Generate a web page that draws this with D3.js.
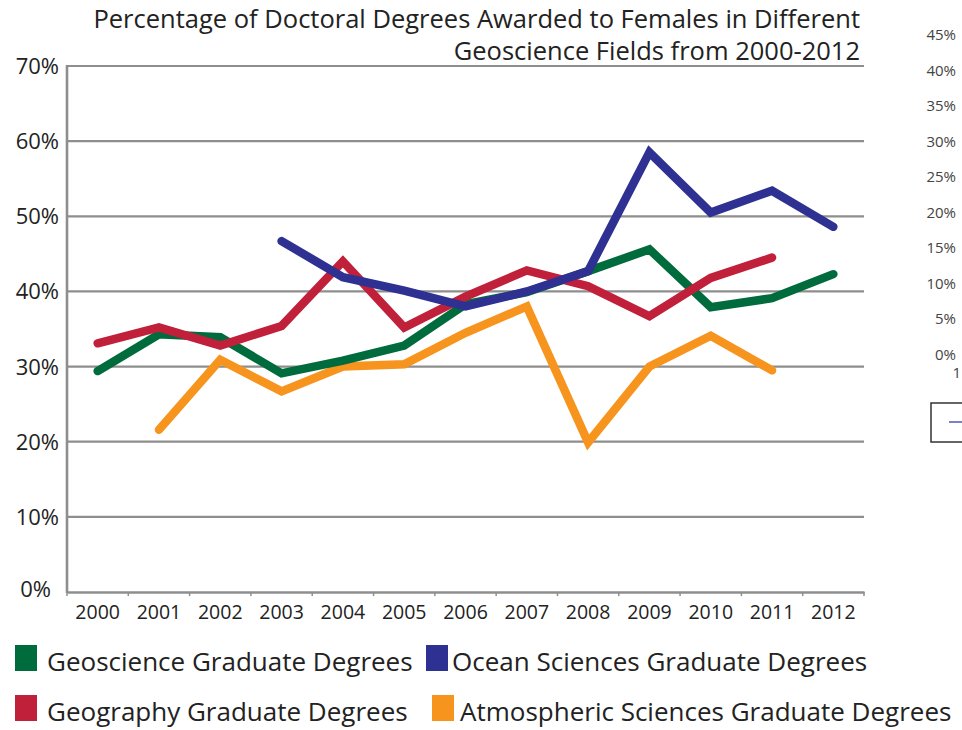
<!DOCTYPE html>
<html>
<head>
<meta charset="utf-8">
<script src="https://cdn.jsdelivr.net/npm/d3@7"></script>
<style>
  body { margin: 0; background: #fff; }
  svg { display: block; font-family: "Open Sans", "Noto Sans", sans-serif; }
</style>
</head>
<body>
<div id="chart"></div>
<script>
var years = ["2000", "2001", "2002", "2003", "2004", "2005", "2006", "2007", "2008", "2009", "2010", "2011", "2012"];
var yTicks = [0, 10, 20, 30, 40, 50, 60, 70];

var geoscience = [29.4, 34.3, 33.9, 29.1, 30.8, 32.8, 38.3, 39.9, 42.7, 45.6, 37.9, 39.1, 42.3];
var geography = [33.1, 35.2, 32.8, 35.4, 44.0, 35.2, 39.3, 42.8, 40.7, 36.7, 41.8, 44.5, null];
var ocean = [null, null, null, 46.7, 41.9, 40.1, 38.0, 40.0, 42.7, 58.5, 50.5, 53.4, 48.6];
var atmospheric = [null, 21.6, 30.9, 26.7, 30.0, 30.3, 34.5, 38.0, 19.9, 30.0, 34.1, 29.5, null];

var seriesNames = ["Geoscience Graduate Degrees", "Ocean Sciences Graduate Degrees",
                   "Geography Graduate Degrees", "Atmospheric Sciences Graduate Degrees"];
var seriesColors = ["#006b3c", "#2e3192", "#c1203a", "#f7941d"];

// fragment of a neighbouring chart cut off at the right edge
var sideTicks = [0, 5, 10, 15, 20, 25, 30, 35, 40, 45];

var W = 962, H = 730;
var margin = {left: 67, right: 98, top: 66, bottom: 138};

var svg = d3.select("#chart").append("svg")
    .attr("width", W).attr("height", H);

var x = d3.scaleBand().domain(years).range([margin.left, W - margin.right]);
var y = d3.scaleLinear().domain([0, 70]).range([H - margin.bottom, margin.top]);

// gridlines
svg.append("g").selectAll("line").data(yTicks.slice(1)).join("line")
    .attr("x1", margin.left).attr("x2", W - margin.right)
    .attr("y1", d => y(d)).attr("y2", d => y(d))
    .attr("stroke", "#8e8e8e").attr("stroke-width", 2.2);

// y labels
svg.append("g").selectAll("text").data(yTicks).join("text")
    .attr("x", d => d === 0 ? 51 : 59)
    .attr("y", d => y(d) + (d === 0 ? 5 : 8))
    .attr("text-anchor", "end")
    .attr("font-size", 22)
    .attr("fill", "#222")
    .text(d => d + "%");

// axes lines
svg.append("line")
    .attr("x1", margin.left).attr("x2", margin.left)
    .attr("y1", y(70) - 1).attr("y2", y(0) + 1)
    .attr("stroke", "#8e8e8e").attr("stroke-width", 2.6);

var xAxis = svg.append("g")
    .attr("transform", "translate(0," + y(0) + ")")
    .call(d3.axisBottom(x).tickSize(0).tickPadding(13));
xAxis.select(".domain").attr("stroke", "#8e8e8e").attr("stroke-width", 2.6);
xAxis.selectAll("text").attr("font-size", 19.5).attr("fill", "#222")
    .attr("font-family", "\"Open Sans\", sans-serif");

// small tick marks between categories
svg.append("g").selectAll("line").data(years.concat(["end"])).join("line")
    .attr("x1", (d, i) => margin.left + i * x.bandwidth())
    .attr("x2", (d, i) => margin.left + i * x.bandwidth())
    .attr("y1", y(0)).attr("y2", y(0) + 4)
    .attr("stroke", "#8e8e8e").attr("stroke-width", 1.5);

// lines
var line = d3.line()
    .defined(d => d.v !== null)
    .x(d => x(d.year) + x.bandwidth() / 2)
    .y(d => y(d.v));

var drawOrder = [
    {vals: atmospheric, color: seriesColors[3]},
    {vals: geoscience, color: seriesColors[0]},
    {vals: geography, color: seriesColors[2]},
    {vals: ocean, color: seriesColors[1]}
];

drawOrder.forEach(function(s) {
    var pts = years.map((yr, i) => ({year: yr, v: s.vals[i]}));
    svg.append("path")
        .attr("d", line(pts))
        .attr("fill", "none")
        .attr("stroke", s.color)
        .attr("stroke-width", 8.5)
        .attr("stroke-linejoin", "miter")
        .attr("stroke-linecap", "round");
});

// title
var title = svg.append("g").attr("font-size", 25.5).attr("fill", "#222").attr("text-anchor", "end");
title.append("text").attr("x", 860).attr("y", 28)
    .text("Percentage of Doctoral Degrees Awarded to Females in Different");
title.append("text").attr("x", 860).attr("y", 60)
    .text("Geoscience Fields from 2000-2012");

// legend
var legPos = [[15, 671, 32], [426, 671, 26], [15, 721, 32], [432, 721, 28]];
var leg = svg.append("g").selectAll("g").data(seriesNames).join("g")
    .attr("transform", (d, i) => "translate(" + legPos[i][0] + "," + legPos[i][1] + ")");
leg.append("rect")
    .attr("x", 0).attr("y", -26).attr("width", 22).attr("height", 26)
    .attr("fill", (d, i) => seriesColors[i]);
leg.append("text")
    .attr("x", (d, i) => legPos[i][2]).attr("y", 0)
    .attr("font-size", 26).attr("fill", "#222")
    .text(d => d);

// clipped neighbouring chart
var ys = d3.scaleLinear().domain([0, 45]).range([355, 35]);
var side = svg.append("g").attr("font-size", 15).attr("fill", "#444").attr("text-anchor", "end");
side.selectAll("text").data(sideTicks).join("text")
    .attr("x", 956).attr("y", d => ys(d) + 5)
    .text(d => d + "%");
side.append("text").attr("x", 961).attr("y", 378).text("1");
svg.append("path")
    .attr("d", "M963,403 H931 V442 H963")
    .attr("fill", "none").attr("stroke", "#333").attr("stroke-width", 1.5);
svg.append("line")
    .attr("x1", 949).attr("x2", 962).attr("y1", 422).attr("y2", 422)
    .attr("stroke", "#7b7fc4").attr("stroke-width", 2);
</script>
</body>
</html>
